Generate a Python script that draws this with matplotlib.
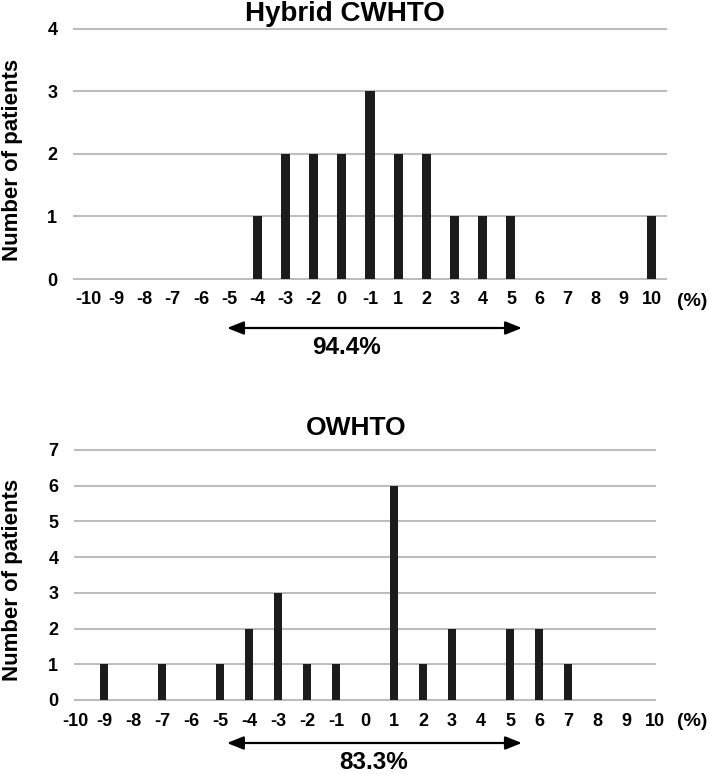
import matplotlib
matplotlib.use('Agg')
import matplotlib.pyplot as plt
import matplotlib.transforms as mtrans
from matplotlib import font_manager

plt.rcParams['font.family'] = ['Liberation Sans', 'DejaVu Sans']
plt.rcParams['font.weight'] = 'bold'

# condensed face for ticks and labels, if it is there
names = set(f.name for f in font_manager.fontManager.ttflist)
NARROW = ['Liberation Sans Narrow', 'Liberation Sans'] if 'Liberation Sans Narrow' in names else ['Liberation Sans']
print(NARROW)

# data
hybrid_labels = ['-10', '-9', '-8', '-7', '-6', '-5', '-4', '-3', '-2', '0', '-1',
                 '1', '2', '3', '4', '5', '6', '7', '8', '9', '10']
hybrid_counts = [0, 0, 0, 0, 0, 0, 1, 2, 2, 2, 3, 2, 2, 1, 1, 1, 0, 0, 0, 0, 1]
owhto_labels = ['-10', '-9', '-8', '-7', '-6', '-5', '-4', '-3', '-2', '-1', '0',
                '1', '2', '3', '4', '5', '6', '7', '8', '9', '10']
owhto_counts = [0, 1, 0, 1, 0, 1, 2, 3, 1, 1, 0, 6, 1, 2, 0, 2, 2, 1, 0, 0, 0]
hybrid_pct = '94.4%'
owhto_pct = '83.3%'

W, H = 709, 774
BAR = '#1c1c1c'
GRID = '#bdbdbd'
narrow = NARROW[0] != 'Liberation Sans'
TICK_FS = 14 if narrow else 13
PCT_FS = 20 if narrow else 17.5
YLAB_FS = 19 if narrow else 16
UNIT_FS = 16 if narrow else 14

fig = plt.figure(figsize=(W / 100, H / 100), dpi=100)


def px_box(left, top, right, bottom):
  return [left / W, 1 - bottom / H, (right - left) / W, (bottom - top) / H]


def style_axis(ax, labels, ymax):
  ax.set_xticks(range(len(labels)))
  ax.set_xticklabels(labels, fontsize=TICK_FS, fontweight='bold', family=NARROW)
  ax.set_ylim(0, ymax)
  ax.set_yticks(range(ymax + 1))
  ax.set_yticklabels([str(v) for v in range(ymax + 1)], fontsize=TICK_FS,
                     fontweight='bold', family=NARROW)
  ax.tick_params(axis='both', length=0)
  ax.tick_params(axis='y', pad=12)
  ax.tick_params(axis='x', pad=9)
  for s in ax.spines.values():
    s.set_visible(False)
  ax.grid(axis='y', color=GRID, linewidth=1.5, clip_on=False)
  ax.set_axisbelow(True)


def arrow_and_pct(ax, x0, x1, ya, xt, yt, pct):
  tr = mtrans.blended_transform_factory(ax.transData, ax.transAxes)
  ax.annotate('', xy=(x0, ya), xytext=(x1, ya), xycoords=tr, textcoords=tr,
              arrowprops=dict(arrowstyle='<|-|>,head_length=0.5,head_width=0.2',
                              color='black', lw=1.6, mutation_scale=20,
                              shrinkA=0, shrinkB=0),
              annotation_clip=False)
  ax.text(xt, yt, pct, transform=tr, ha='center', va='center',
          fontsize=PCT_FS, fontweight='bold', family=NARROW, clip_on=False)


# top chart: Hybrid CWHTO
ax1 = fig.add_axes(px_box(74, 29, 666, 279))
x1 = list(range(len(hybrid_labels)))
ax1.bar(x1, hybrid_counts, width=0.32, color=BAR, zorder=3)
ax1.set_xlim(-0.5, len(hybrid_labels) - 0.5)
style_axis(ax1, hybrid_labels, 4)
arrow_and_pct(ax1, 4.93, 15.39, -0.196, 9.15, -0.272, hybrid_pct)

# bottom chart: OWHTO
ax2 = fig.add_axes(px_box(75, 450, 655, 700))
x2 = list(range(len(owhto_labels)))
ax2.bar(x2, owhto_counts, width=0.3, color=BAR, zorder=3)
ax2.set_xlim(0, len(owhto_labels) - 1)
style_axis(ax2, owhto_labels, 7)
arrow_and_pct(ax2, 5.24, 15.41, -0.172, 10.3, -0.25, owhto_pct)

# titles, axis labels, unit
fig.text(345 / W, 1 - 14 / H, 'Hybrid CWHTO', ha='center', va='center',
         fontsize=20, fontweight='bold')
fig.text(356 / W, 1 - 428 / H, 'OWHTO', ha='center', va='center',
         fontsize=19, fontweight='bold')
for yc in (160, 580):
  fig.text(13 / W, 1 - yc / H, 'Number of patients', rotation=90,
           ha='center', va='center', fontsize=YLAB_FS, fontweight='bold',
           family=NARROW)
for yc in (302, 722):
  fig.text(692 / W, 1 - yc / H, '(%)', ha='center', va='center',
           fontsize=UNIT_FS, fontweight='bold', family=NARROW)

fig.savefig('out.png', dpi=100)
